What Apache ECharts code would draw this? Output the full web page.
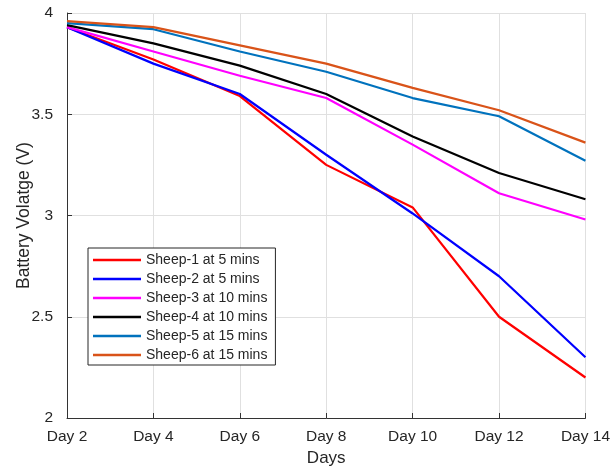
<!DOCTYPE html>
<html>
<head>
<meta charset="utf-8">
<script src="https://cdn.jsdelivr.net/npm/echarts@6/dist/echarts.min.js"></script>
<style>
html,body{margin:0;padding:0;background:#fff;}
#chart{width:613px;height:472px;}
</style>
</head>
<body>
<div id="chart"></div>
<script>
const categories = ['Day 2','Day 4','Day 6','Day 8','Day 10','Day 12','Day 14'];
const seriesNames = ['Sheep-1 at 5 mins','Sheep-2 at 5 mins','Sheep-3 at 10 mins','Sheep-4 at 10 mins','Sheep-5 at 15 mins','Sheep-6 at 15 mins'];
const sheep1 = [3.93, 3.77, 3.59, 3.25, 3.04, 2.50, 2.20];
const sheep2 = [3.93, 3.75, 3.60, 3.30, 3.01, 2.70, 2.30];
const sheep3 = [3.93, 3.81, 3.69, 3.58, 3.35, 3.11, 2.98];
const sheep4 = [3.94, 3.85, 3.74, 3.60, 3.39, 3.21, 3.08];
const sheep5 = [3.95, 3.92, 3.81, 3.71, 3.58, 3.49, 3.27];
const sheep6 = [3.96, 3.93, 3.84, 3.75, 3.63, 3.52, 3.36];
const yTicks = [2, 2.5, 3, 3.5, 4];

const colors = ['#ff0000','#0000ff','#ff00ff','#000000','#0072bd','#d95319'];
const allData = [sheep1, sheep2, sheep3, sheep4, sheep5, sheep6];
const font = 'Liberation Sans, Arial, Helvetica, sans-serif';
const axisColor = '#333333';
const textColor = '#262626';

const chart = echarts.init(document.getElementById('chart'), null, {renderer:'canvas'});
chart.setOption({
  animation: false,
  backgroundColor: '#ffffff',
  textStyle: {fontFamily: font},
  grid: {left: 67, right: 25, top: 13, bottom: 48, containLabel: false},
  legend: {
    orient: 'vertical',
    left: 88, top: 248,
    data: seriesNames,
    icon: 'rect',
    backgroundColor: '#ffffff',
    borderColor: '#262626',
    borderWidth: 1,
    borderRadius: 0,
    padding: [5, 8, 3, 5],
    itemWidth: 48,
    itemHeight: 2.5,
    itemGap: 5,
    itemTextGap: 4,
    textStyle: {fontFamily: font, fontSize: 14, lineHeight: 14, color: textColor}
  },
  xAxis: {
    type: 'category',
    data: categories,
    boundaryGap: false,
    name: 'Days',
    nameLocation: 'middle',
    nameGap: 32,
    nameMoveOverlap: false,
    nameTextStyle: {fontFamily: font, fontSize: 17, color: textColor},
    axisLine: {show: true, lineStyle: {color: axisColor, width: 1}},
    axisTick: {show: true, inside: true, length: 5, alignWithLabel: true, lineStyle: {color: axisColor}},
    axisLabel: {fontFamily: font, fontSize: 15.5, color: textColor, margin: 11},
    splitLine: {show: true, lineStyle: {color: '#e0e0e0', width: 1}}
  },
  yAxis: {
    type: 'value',
    min: yTicks[0], max: yTicks[yTicks.length - 1], interval: 0.5,
    name: 'Battery Volatge (V)',
    nameLocation: 'middle',
    nameRotate: 90,
    nameGap: 34,
    nameMoveOverlap: false,
    nameTextStyle: {fontFamily: font, fontSize: 17.5, color: textColor},
    axisLine: {show: true, lineStyle: {color: axisColor, width: 1}},
    axisTick: {show: true, inside: true, length: 5, lineStyle: {color: axisColor}},
    axisLabel: {fontFamily: font, fontSize: 15.5, color: textColor, margin: 14},
    splitLine: {show: true, lineStyle: {color: '#e0e0e0', width: 1}}
  },
  series: seriesNames.map((name, i) => ({
    name: name,
    type: 'line',
    data: allData[i],
    symbol: 'none',
    color: colors[i],
    lineStyle: {color: colors[i], width: 2.2},
    itemStyle: {color: colors[i]}
  }))
});
</script>
</body>
</html>
